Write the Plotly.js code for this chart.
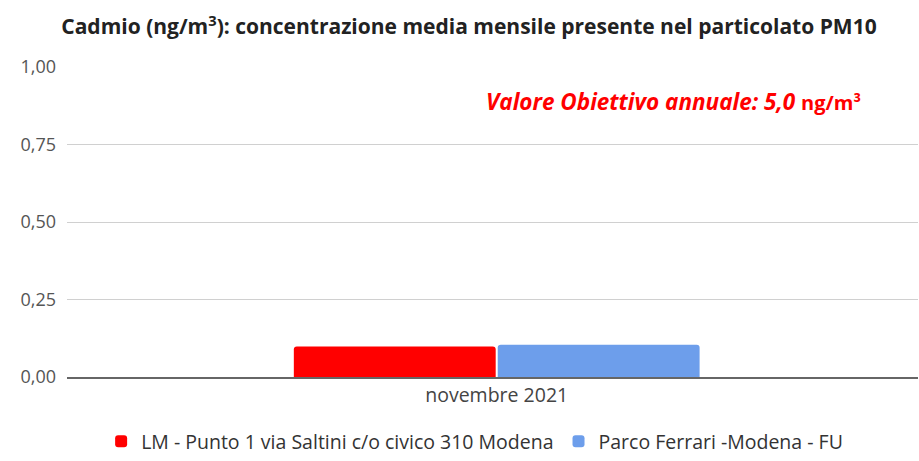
<!DOCTYPE html>
<html>
<head>
<meta charset="utf-8">
<script src="https://cdn.plot.ly/plotly-3.0.1.min.js"></script>
<style>
  body { margin: 0; background: #fff; }
  #graphDiv { width: 919px; height: 461px; }
</style>
</head>
<body>
<div id="graphDiv"></div>
<script>
// Data
var months = ['novembre 2021'];
var seriesNames = ['LM - Punto 1 via Saltini c/o civico 310 Modena', 'Parco Ferrari -Modena - FU'];
var lmValues = [0.098];
var parcoValues = [0.104];
var yTicks = [0, 0.25, 0.5, 0.75, 1];
var yTickLabels = ['0,00', '0,25', '0,50', '0,75', '1,00'];

var lmTrace = {
  x: months,
  y: lmValues,
  type: 'bar',
  name: seriesNames[0],
  marker: { color: '#ff0000' },
  hoverinfo: 'skip'
};
var parcoTrace = {
  x: months,
  y: parcoValues,
  type: 'bar',
  name: seriesNames[1],
  marker: { color: '#6d9eeb' },
  hoverinfo: 'skip'
};

var layout = {
  width: 919,
  height: 461,
  margin: { l: 67, r: 1, t: 67, b: 84 },
  font: { family: 'Open Sans, sans-serif', color: '#444' },
  paper_bgcolor: '#fff',
  plot_bgcolor: '#fff',
  title: {
    text: 'Cadmio (ng/m<sup>3</sup>): concentrazione media mensile presente nel particolato PM10',
    font: { size: 21, color: '#222', weight: 'bold' },
    x: 469 / 919, xanchor: 'center',
    yref: 'container', y: 1 - 27 / 461, yanchor: 'middle'
  },
  barmode: 'group',
  bargap: 0.516,
  bargroupgap: 0.01,
  barcornerradius: 3,
  xaxis: {
    range: [-0.51, 0.5],
    automargin: false,
    showgrid: false,
    showline: true,
    linecolor: '#666',
    linewidth: 1.5,
    ticks: '',
    tickfont: { size: 19.5, color: '#444' }
  },
  yaxis: {
    range: [0, 1],
    automargin: false,
    tickvals: yTicks,
    ticktext: yTickLabels,
    gridcolor: '#d0d0d0',
    zeroline: false,
    ticks: '',
    ticklabelstandoff: 10,
    tickfont: { size: 18, color: '#555' }
  },
  legend: {
    orientation: 'h',
    x: 0.479, xanchor: 'center',
    yref: 'container',
    y: -0.014, yanchor: 'bottom',
    font: { size: 19.5, color: '#333' },
    itemwidth: 30,
    traceorder: 'normal'
  },
  annotations: [{
    xref: 'paper', yref: 'paper',
    x: 0.935, y: 0.89,
    xanchor: 'right', yanchor: 'middle',
    showarrow: false,
    text: '<b><i>Valore Obiettivo annuale: 5,0 </i><span style="font-size:20px">ng/m³</span></b>',
    font: { size: 22.5, color: '#ff0000' }
  }],
  showlegend: true
};

Plotly.newPlot('graphDiv', [lmTrace, parcoTrace], layout, { displayModeBar: false, staticPlot: true });
</script>
</body>
</html>
